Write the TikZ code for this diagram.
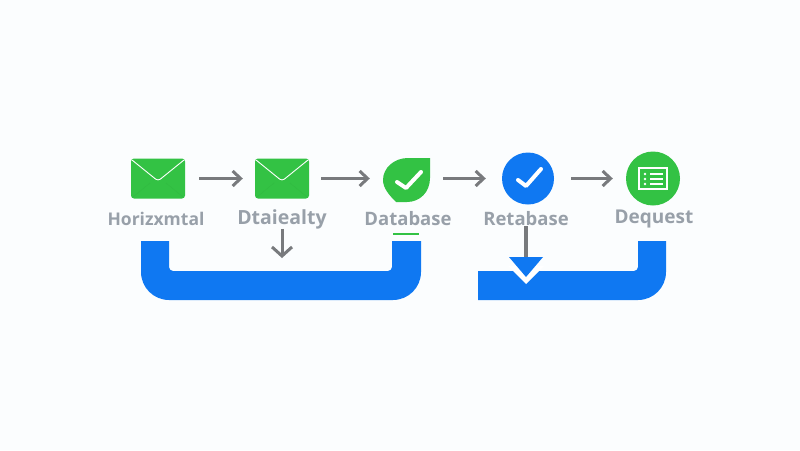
\documentclass[tikz,border=0pt]{standalone}
\usepackage{fontspec}
\setmainfont{Open Sans}
\usetikzlibrary{arrows.meta}
\definecolor{bggray}{HTML}{FBFDFE}
\definecolor{icongreen}{HTML}{33C244}
\definecolor{pipeblue}{HTML}{0F78F2}
\definecolor{arwgray}{HTML}{787A7D}
\definecolor{labgray}{HTML}{98A0A9}
\tikzstyle{env}=[fill=icongreen, shape=rectangle, rounded corners=3pt, minimum width=54pt, minimum height=40pt, inner sep=0pt]
\tikzstyle{ball}=[shape=circle, inner sep=0pt]
\tikzstyle{lab}=[text=labgray, font=\bfseries\fontsize{18.5}{22}\selectfont, inner sep=0pt]
\tikzstyle{arw}=[draw=arwgray, line width=3pt, -{Straight Barb[length=8pt,width=15pt,line width=3pt]}]
\tikzstyle{bigarw}=[draw=arwgray, line width=3pt, -{Straight Barb[length=9pt,width=20pt,line width=3pt]}]
\tikzstyle{tick}=[draw=white, line width=4pt, line cap=round, line join=round]
\tikzstyle{flap}=[draw=white, line width=0.9pt, rounded corners=3pt]
\tikzstyle{fold}=[draw=icongreen!96!black, line width=0.4pt]
\tikzstyle{pipe}=[fill=pipeblue]

\begin{document}
\begin{tikzpicture}[x=1pt, y=-1pt]
	\fill[bggray] (0,0) rectangle (800,450);
	\useasboundingbox (0,0) rectangle (800,450);

	% pipes
	\fill[style=pipe] (141,241) [rounded corners=28pt] -- (141,300) -- (421,300) [sharp corners] -- (421,241) -- (392,241) [rounded corners=4pt] -- (392,271) -- (169,271) [sharp corners] -- (169,241) -- cycle;
	\fill[style=pipe] (478,271) -- (478,300) [rounded corners=28pt] -- (666,300) [sharp corners] -- (666,241) -- (638,241) [rounded corners=4pt] -- (638,271) [sharp corners] -- cycle;
	\draw[icongreen, line width=1.5pt] (393,234) -- (419,234);

	% icons
	\node[style=env] (env1) at (158,178.5) {};
	\node[style=env] (env2) at (282,178.5) {};
	\node[style=ball, minimum size=47pt] (leaf) at (406.5,178.5) {};
	\node[style=ball, fill=pipeblue, minimum size=52pt] (ret) at (528,178.5) {};
	\node[style=ball, fill=icongreen, minimum size=54pt] (deq) at (653,178.5) {};
	\fill[icongreen] (430,158) -- (408,158) .. controls (394,158) and (383,168) .. (383,180) .. controls (383,188) and (389,195) .. (396,202) -- (407,202) .. controls (420,202) and (430,192) .. (430,178) -- cycle;

	\draw[style=fold] (133,197) -- (150,183);
	\draw[style=fold] (183,197) -- (166,183);
	\draw[style=fold] (257,197) -- (274,183);
	\draw[style=fold] (307,197) -- (290,183);
	\draw[style=flap] (132,160) -- (158,181) -- (184,160);
	\draw[style=flap] (256,160) -- (282,181) -- (308,160);
	\draw[style=tick] (397,182) -- (406,188) -- (421,172);
	\draw[style=tick] (518,180) -- (526,186) -- (541,169);
	\draw[draw=white, line width=1.3pt] (639,168) rectangle (667,189);
	\foreach \y in {174,179,184} {
		\fill[white] (645,\y) circle (1.3pt);
		\draw[white, line width=1.2pt] (650,\y) -- (663,\y);
	}

	% labels
	\node[style=lab, font=\bfseries\fontsize{17.5}{22}\selectfont] (lab1) at (156,219) {Horizxmtal};
	\node[style=lab, font=\bfseries\fontsize{19.5}{22}\selectfont] (lab2) at (282,219) {Dtaiealty};
	\node[style=lab] (lab3) at (408,218.5) {Database};
	\node[style=lab] (lab4) at (526,219) {Retabase};
	\node[style=lab, font=\bfseries\fontsize{19}{22}\selectfont] (lab5) at (654,219) {Dequest};

	% free ends
	\coordinate (downA) at (282,258);
	\coordinate (downB) at (526,258);

	\draw[style=arw, shorten <=14pt, shorten >=12pt] (env1) to (env2);
	\draw[style=arw, shorten <=12pt, shorten >=13pt] (env2) to (leaf);
	\draw[style=arw, shorten <=13pt, shorten >=16pt] (leaf) to (ret);
	\draw[style=arw, shorten <=17pt, shorten >=13pt] (ret) to (deq);
	\draw[style=bigarw] (lab2.south) to (downA);

	% drop into the right pipe
	\draw[arwgray, line width=3.5pt] (lab4.south) to (downB);
	\fill[white] (508,266) -- (544,266) -- (526,284) -- cycle;
	\fill[style=pipe] (509,257) -- (543,257) -- (526,277) -- cycle;
\end{tikzpicture}
\end{document}
